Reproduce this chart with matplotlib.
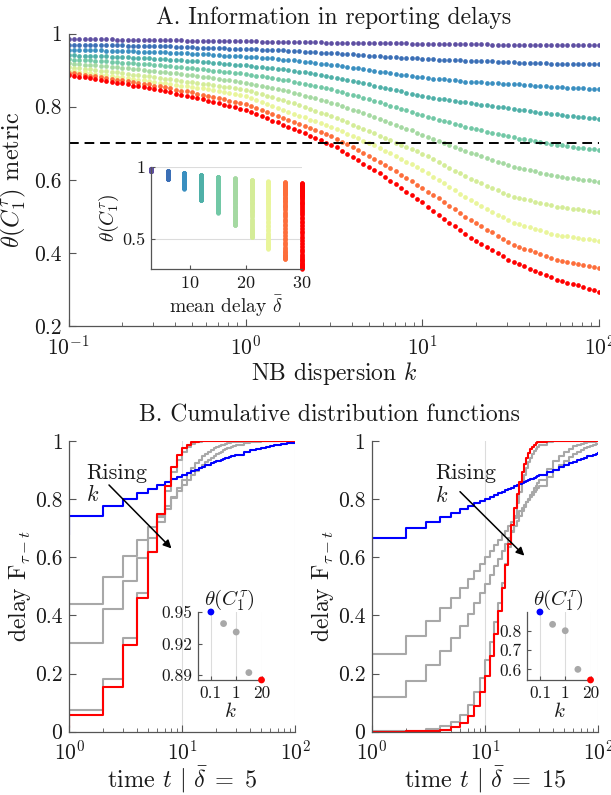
import numpy as np
import matplotlib
matplotlib.use("Agg")
import matplotlib.pyplot as plt
import matplotlib.ticker as mticker

plt.rcParams["font.family"] = "serif"
plt.rcParams["font.serif"] = ["cmr10"]
plt.rcParams["mathtext.fontset"] = "cm"
plt.rcParams["axes.formatter.use_mathtext"] = True
plt.rcParams["axes.unicode_minus"] = False

# ── Panel A data: theta metric vs NB dispersion k, one curve per mean delay ──
K_GRID = np.logspace(-1, 2, 100)
MEAN_DELAYS = [3, 6, 9, 12, 15, 18, 21, 24, 27, 30]
THRESHOLD = 0.7

THETA_D3 = [
    .984, .984, .984, .984, .984, .984, .984, .984, .984,
    .983, .983, .983, .983, .983, .983, .983, .983,
    .982, .982, .982, .982, .982, .981, .981, .981,
    .981, .981, .980, .980, .980, .980, .979, .979, .979,
    .979, .979, .978, .978, .978, .978, .977, .977,
    .977, .977, .976, .976, .976, .976, .975, .975,
    .975, .975, .975, .974, .974, .974, .974, .974,
    .973, .973, .973, .973, .973, .973, .972, .972, .972,
    .972, .972, .972, .972, .971, .971, .971, .971,
    .971, .971, .971, .971, .970, .970, .970, .970,
    .970, .970, .970, .970, .970, .970, .970, .970,
    .969, .969, .969, .969, .969, .969, .969, .969, .969]
THETA_D6 = [
    .969, .969, .969, .969, .969, .968, .968, .968, .968,
    .968, .968, .967, .967, .967, .967, .966, .966,
    .966, .965, .965, .964, .964, .963, .963, .962,
    .962, .961, .961, .960, .960, .959, .959, .958, .958,
    .957, .957, .956, .956, .955, .954, .954, .953,
    .952, .952, .951, .950, .949, .948, .947, .946,
    .946, .945, .944, .943, .942, .941, .940, .939,
    .938, .937, .936, .935, .934, .934, .933, .932, .931,
    .930, .930, .929, .929, .928, .927, .927, .926,
    .926, .925, .925, .924, .924, .923, .923, .922,
    .922, .921, .921, .920, .920, .919, .919, .918,
    .918, .918, .917, .917, .917, .917, .916, .916, .916]
THETA_D9 = [
    .955, .955, .955, .954, .954, .954, .954, .953, .953,
    .953, .952, .952, .952, .951, .951, .951, .950,
    .950, .949, .948, .947, .947, .946, .945, .945,
    .944, .943, .942, .941, .940, .940, .939, .938, .937,
    .936, .935, .934, .933, .932, .930, .929, .928,
    .927, .925, .923, .922, .920, .918, .916, .915,
    .913, .911, .909, .907, .905, .903, .901, .899,
    .896, .894, .892, .890, .888, .886, .884, .882, .880,
    .879, .877, .876, .875, .873, .872, .871, .869,
    .868, .868, .867, .866, .865, .864, .863, .862,
    .862, .861, .860, .859, .858, .857, .856, .855,
    .854, .853, .852, .852, .851, .850, .849, .849, .848]
THETA_D12 = [
    .941, .941, .940, .940, .939, .939, .938, .938, .937,
    .937, .936, .935, .934, .934, .933, .932, .931,
    .930, .930, .929, .928, .927, .926, .925, .924,
    .923, .922, .920, .919, .918, .917, .915, .914, .913,
    .911, .910, .908, .907, .905, .904, .902, .900,
    .898, .896, .894, .891, .889, .887, .884, .882,
    .879, .876, .873, .870, .867, .864, .861, .857,
    .854, .851, .848, .845, .842, .838, .835, .832, .829,
    .827, .825, .822, .820, .818, .816, .814, .812,
    .809, .808, .806, .804, .802, .800, .798, .796,
    .794, .792, .790, .788, .786, .784, .782, .780,
    .779, .777, .775, .774, .772, .771, .769, .768, .766]
THETA_D15 = [
    .930, .929, .928, .927, .927, .926, .925, .924, .923,
    .922, .921, .920, .919, .918, .917, .916, .915,
    .913, .912, .911, .909, .908, .907, .905, .904,
    .903, .901, .899, .898, .896, .895, .893, .892, .890,
    .888, .885, .883, .881, .879, .876, .874, .872,
    .869, .866, .863, .860, .857, .854, .851, .848,
    .844, .840, .836, .832, .828, .824, .820, .816,
    .812, .808, .803, .799, .795, .790, .786, .781, .777,
    .773, .769, .765, .761, .757, .753, .749, .745,
    .742, .738, .735, .732, .728, .725, .722, .719,
    .716, .713, .711, .708, .706, .703, .700, .698,
    .696, .694, .692, .690, .688, .686, .685, .683, .681]
THETA_D18 = [
    .919, .918, .917, .915, .914, .913, .912, .911, .909,
    .908, .906, .905, .903, .902, .901, .899, .898,
    .896, .894, .893, .891, .889, .888, .886, .884,
    .882, .880, .878, .876, .874, .872, .870, .868, .866,
    .863, .860, .857, .854, .851, .848, .845, .842,
    .838, .834, .830, .826, .823, .819, .815, .811,
    .807, .802, .797, .792, .787, .782, .777, .772,
    .767, .761, .756, .751, .745, .740, .735, .729, .724,
    .718, .713, .707, .702, .696, .691, .685, .679,
    .674, .670, .665, .660, .655, .650, .645, .640,
    .636, .633, .630, .626, .623, .619, .616, .613,
    .610, .608, .606, .604, .602, .600, .599, .597, .595]
THETA_D21 = [
    .908, .906, .905, .903, .902, .900, .899, .897, .895,
    .894, .892, .890, .888, .886, .885, .883, .881,
    .879, .877, .875, .873, .871, .869, .867, .865,
    .863, .861, .859, .857, .855, .853, .850, .848, .846,
    .842, .838, .834, .830, .826, .822, .818, .814,
    .809, .804, .799, .794, .789, .784, .779, .775,
    .769, .763, .757, .751, .745, .739, .733, .727,
    .720, .714, .708, .702, .696, .690, .684, .678, .672,
    .664, .656, .649, .641, .633, .625, .618, .610,
    .603, .597, .591, .584, .578, .572, .565, .559,
    .554, .551, .547, .544, .540, .537, .533, .530,
    .527, .525, .523, .521, .519, .517, .515, .513, .511]
THETA_D24 = [
    .899, .897, .895, .894, .892, .890, .888, .886, .885,
    .882, .880, .878, .876, .874, .872, .870, .868,
    .866, .864, .862, .860, .858, .856, .854, .852,
    .850, .848, .845, .843, .840, .838, .835, .833, .830,
    .825, .819, .814, .808, .803, .797, .792, .786,
    .781, .776, .771, .765, .760, .755, .750, .745,
    .739, .733, .726, .720, .714, .707, .701, .695,
    .688, .680, .673, .665, .658, .650, .642, .635, .627,
    .618, .608, .599, .590, .580, .571, .562, .552,
    .544, .536, .528, .520, .513, .505, .497, .489,
    .483, .479, .474, .470, .466, .462, .457, .453,
    .449, .447, .445, .443, .441, .439, .437, .435, .433]
THETA_D27 = [
    .893, .891, .889, .887, .885, .883, .881, .879, .876,
    .874, .872, .870, .867, .865, .863, .861, .858,
    .856, .853, .850, .847, .844, .842, .839, .836,
    .833, .830, .827, .824, .821, .817, .814, .811, .808,
    .803, .797, .792, .786, .781, .775, .770, .764,
    .759, .753, .747, .742, .736, .730, .725, .719,
    .712, .704, .697, .689, .681, .673, .666, .658,
    .650, .641, .632, .623, .614, .605, .596, .587, .578,
    .568, .558, .549, .539, .529, .519, .509, .499,
    .491, .482, .473, .464, .456, .447, .438, .429,
    .422, .417, .412, .407, .402, .396, .391, .386,
    .381, .379, .376, .373, .370, .367, .365, .362, .359]
THETA_D30 = [
    .887, .885, .882, .880, .878, .876, .873, .871, .869,
    .866, .864, .861, .858, .856, .853, .851, .848,
    .845, .842, .839, .836, .833, .830, .827, .824,
    .821, .817, .814, .810, .806, .802, .799, .795, .791,
    .785, .780, .774, .768, .762, .757, .751, .745,
    .739, .733, .727, .721, .715, .708, .702, .696,
    .689, .680, .671, .662, .653, .644, .635, .627,
    .618, .608, .598, .588, .578, .568, .558, .548, .538,
    .527, .516, .505, .494, .483, .473, .462, .451,
    .442, .433, .425, .416, .408, .399, .391, .382,
    .375, .369, .363, .357, .351, .345, .339, .333,
    .327, .323, .319, .315, .311, .306, .302, .298, .294]

THETA = [THETA_D3, THETA_D6, THETA_D9, THETA_D12, THETA_D15,
         THETA_D18, THETA_D21, THETA_D24, THETA_D27, THETA_D30]
DELAY_COLORS = ["#5e4fa2", "#3b6fb6", "#3a8fc0", "#4fb0a8", "#72c8a6",
                "#a5d9a2", "#d4ec98", "#e9f59a", "#fd6e3b", "#ff0000"]

# ── Panel B data: delay CDFs (NB) at t = 0..30, 35..100 ────────────────────
T_STEPS = list(range(31)) + list(range(35, 101, 5))
K_LABELS = ["0.1", "0.5", "1", "10", "20"]
CURVE_COLORS = ["#0000ff", "#a8a8a8", "#a8a8a8", "#a8a8a8", "#ff0000"]

CDF_LEFT = [
    [.675, .741, .777, .801, .820, .835, .847, .858, .867, .875, .883, .889, .895,
     .901, .906, .910, .915, .918, .922, .926, .929, .932, .935, .937, .940, .942,
     .944, .947, .949, .950, .952,
     .960, .967, .972, .976, .979, .982, .985, .987, .989, .990, .991, .992, .993, .994],
    [.302, .439, .532, .603, .659, .705, .744, .776, .804, .828, .848, .866, .881,
     .895, .907, .917, .926, .934, .942, .948, .954, .959, .963, .967, .970, .974,
     .976, .979, .981, .983, .985,
     .991, .995, .997, .998, .999, .999, 1, 1, 1, 1, 1, 1, 1, 1],
    [.167, .306, .421, .518, .598, .665, .721, .767, .806, .839, .865, .888, .907,
     .922, .935, .946, .955, .962, .969, .974, .978, .982, .985, .987, .990, .991,
     .993, .994, .995, .996, .997,
     .999, .999, 1, 1, 1, 1, 1, 1, 1, 1, 1, 1, 1, 1],
    [.017, .075, .181, .322, .476, .618, .737, .828, .892, .935, .962, .979, .988,
     .994, .997, .998, .999, 1, 1, 1, 1, 1, 1, 1, 1, 1,
     1, 1, 1, 1, 1,
     1, 1, 1, 1, 1, 1, 1, 1, 1, 1, 1, 1, 1, 1],
    [.012, .058, .155, .297, .460, .617, .747, .845, .910, .951, .974, .987, .994,
     .997, .999, 1, 1, 1, 1, 1, 1, 1, 1, 1, 1, 1,
     1, 1, 1, 1, 1,
     1, 1, 1, 1, 1, 1, 1, 1, 1, 1, 1, 1, 1, 1],
]
CDF_RIGHT = [
    [.606, .666, .699, .721, .739, .753, .765, .776, .785, .793, .801, .808, .814,
     .820, .825, .830, .835, .839, .843, .847, .851, .855, .858, .861, .864, .867,
     .870, .873, .876, .878, .881,
     .892, .901, .909, .916, .922, .928, .933, .938, .942, .946, .949, .952, .955, .958],
    [.180, .267, .330, .381, .424, .461, .494, .524, .551, .576, .599, .620, .640,
     .658, .675, .691, .706, .720, .733, .745, .757, .768, .778, .788, .797, .806,
     .815, .823, .830, .838, .845,
     .874, .898, .917, .932, .944, .954, .962, .969, .974, .979, .982, .985, .988, .990],
    [.063, .121, .176, .228, .276, .321, .364, .403, .441, .476, .508, .539, .568,
     .595, .620, .644, .666, .687, .707, .725, .742, .758, .773, .788, .801, .813,
     .825, .836, .846, .856, .865,
     .902, .929, .949, .963, .973, .981, .986, .990, .993, .995, .996, .997, .998, .999],
    [.000, .001, .003, .008, .018, .034, .058, .092, .135, .186, .245, .309, .376,
     .444, .511, .575, .636, .691, .741, .785, .824, .857, .884, .908, .927, .942,
     .955, .965, .973, .979, .984,
     .996, .999, 1, 1, 1, 1, 1, 1, 1, 1, 1, 1, 1, 1],
    [.000, .000, .001, .002, .006, .015, .030, .054, .089, .136, .193, .261, .336,
     .415, .494, .572, .644, .710, .768, .818, .859, .893, .920, .942, .958, .970,
     .979, .986, .991, .994, .996,
     .999, 1, 1, 1, 1, 1, 1, 1, 1, 1, 1, 1, 1, 1],
]

# inset values: theta per k for each mean delay
THETA_K_LEFT = [0.950, 0.939, 0.931, 0.8925, 0.8855]
THETA_K_RIGHT = [0.897, 0.833, 0.800, 0.600, 0.545]
YTICKS_LEFT = [0.89, 0.92, 0.95]
YTICKS_RIGHT = [0.6, 0.7, 0.8]

SPINE = "#555555"
TXT = "#1a1a1a"


def style(ax, size, xpad=4, ypad=4):
    for s in ["top", "right"]:
        ax.spines[s].set_visible(False)
    for s in ["left", "bottom"]:
        ax.spines[s].set_color(SPINE)
        ax.spines[s].set_linewidth(0.9)
    ax.tick_params(which="both", direction="in", colors=SPINE,
                   labelcolor=TXT, labelsize=size)
    ax.tick_params(which="major", length=5)
    ax.tick_params(which="minor", length=3)
    ax.tick_params(axis="x", pad=xpad)
    ax.tick_params(axis="y", pad=ypad)


fmt_g = mticker.FuncFormatter(lambda v, _: f"{v:g}")

fig = plt.figure(figsize=(6.11, 7.95), dpi=100)

# ── Panel A ────────────────────────────────────────────────────────────────
axA = fig.add_axes([0.1123, 0.5899, 0.8687, 0.3678])
for th, c in zip(THETA, DELAY_COLORS):
    axA.plot(K_GRID, th, "o", ms=3.4, color=c, mec="none")
axA.axhline(THRESHOLD, color="k", ls=(0, (5, 3)), lw=1.4)
axA.set_xscale("log")
axA.set_xlim(0.1, 100)
axA.set_ylim(0.2, 1)
axA.set_yticks([0.2, 0.4, 0.6, 0.8, 1.0])
axA.yaxis.set_major_formatter(fmt_g)
style(axA, 15.5, xpad=6, ypad=5)
axA.set_xlabel(r"NB dispersion $k$", fontsize=17, color=TXT, labelpad=1)
axA.set_ylabel(r"$\theta(C_1^\tau)$ metric", fontsize=17.5, color=TXT, labelpad=4)
axA.set_title("A. Information in reporting delays", fontsize=17, color=TXT, pad=7)

# inset: spread of theta for each mean delay
axI = fig.add_axes([0.2468, 0.6613, 0.2475, 0.1291])
for d, th, c in zip(MEAN_DELAYS, THETA, DELAY_COLORS):
    axI.plot(np.full(len(th), d), th, "o", ms=3.2, color=c, mec="none", clip_on=False)
axI.set_xlim(3, 30)
axI.set_ylim(0.29, 1.0)
axI.set_xticks([10, 20, 30])
axI.set_yticks([0.5, 1.0])
axI.yaxis.set_major_formatter(fmt_g)
axI.yaxis.grid(True, color="#dcdcdc", lw=0.8)
axI.set_axisbelow(True)
style(axI, 13)
axI.tick_params(length=3)
axI.set_xlabel(r"mean delay $\bar{\delta}$", fontsize=14, color=TXT, labelpad=2)
axI.set_ylabel(r"$\theta(C_1^\tau)$", fontsize=14, color=TXT, labelpad=1)

# ── Panel B ────────────────────────────────────────────────────────────────
fig.text(0.539, 0.478, "B. Cumulative distribution functions",
         fontsize=17, color=TXT, ha="center", va="center")

panels = [
    (0.1136, CDF_LEFT, THETA_K_LEFT, YTICKS_LEFT, 5, 0.3245,
     (1.40, 0.889), (2.24, 0.848), (8.0, 0.630)),
    (0.6092, CDF_RIGHT, THETA_K_RIGHT, YTICKS_RIGHT, 15, 0.8630,
     (3.60, 0.888), (5.98, 0.825), (22.2, 0.605)),
]
for left, cdfs, th_k, yt, dbar, ileft, txt_xy, a0, a1 in panels:
    ax = fig.add_axes([left, 0.0796, 0.3699, 0.366])
    order = [1, 2, 3, 0, 4]
    for i in order:
        ax.step(T_STEPS, cdfs[i], where="post", color=CURVE_COLORS[i], lw=1.5)
    ax.set_xscale("log")
    ax.set_xlim(1, 100)
    ax.set_ylim(0, 1)
    ax.set_yticks([0, 0.2, 0.4, 0.6, 0.8, 1.0])
    ax.yaxis.set_major_formatter(fmt_g)
    ax.xaxis.grid(True, which="major", color="#dcdcdc", lw=0.8)
    ax.set_axisbelow(True)
    style(ax, 15.5, xpad=6, ypad=5)
    ax.set_xlabel(r"time $t$ $|$ $\bar{\delta}\;=\;%d$" % dbar, fontsize=17.5,
                  color=TXT, labelpad=0)
    ax.set_ylabel(r"delay $\mathrm{F}_{\tau-t}$", fontsize=17, color=TXT, labelpad=1)
    ax.text(txt_xy[0], txt_xy[1], "Rising", fontsize=16, color=TXT,
            ha="left", va="center")
    ax.text(txt_xy[0], txt_xy[1] - 0.075, r"$k$", fontsize=16, color=TXT,
            ha="left", va="center")
    ax.annotate("", xy=a1, xytext=a0,
                arrowprops=dict(arrowstyle="-|>", color="k", lw=1.1,
                                mutation_scale=12, shrinkA=0, shrinkB=0))

    # inset: theta for each k
    axk = fig.add_axes([ileft, 0.1447, 0.1035, 0.0855])
    xs = np.arange(1, len(th_k) + 1)
    axk.scatter(xs, th_k, s=24, c=CURVE_COLORS, edgecolors="none",
                clip_on=False, zorder=3)
    axk.set_xlim(0, len(th_k))
    axk.set_ylim(min(th_k), max(th_k))
    axk.set_xticks([1, 3, 5])
    axk.set_xticklabels([K_LABELS[0], K_LABELS[2], K_LABELS[4]])
    axk.set_yticks(yt)
    axk.yaxis.set_major_formatter(fmt_g)
    axk.xaxis.grid(True, color="#dcdcdc", lw=0.8)
    axk.set_axisbelow(True)
    style(axk, 12.5)
    axk.tick_params(length=3)
    axk.set_title(r"$\theta(C_1^\tau)$", fontsize=15, color=TXT, pad=2)
    axk.set_xlabel(r"$k$", fontsize=15, color=TXT, labelpad=1)

fig.savefig("out.png", dpi=100)
